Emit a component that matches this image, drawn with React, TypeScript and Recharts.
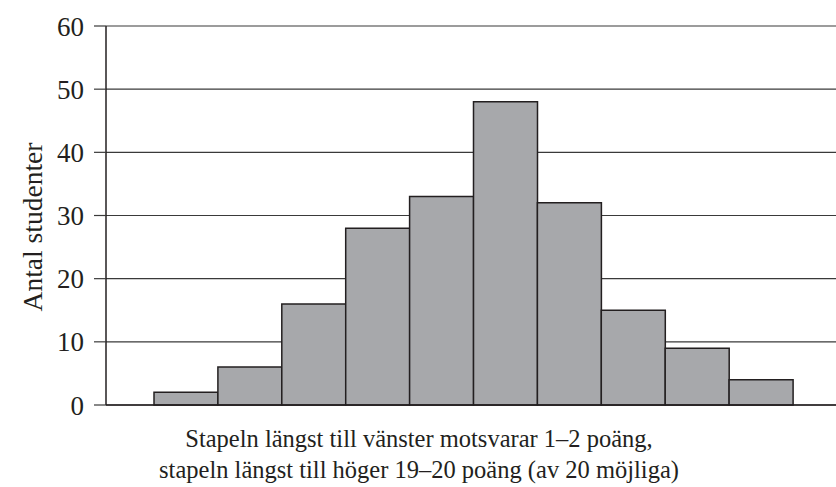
import React from 'react';
import { BarChart, Bar, XAxis, YAxis, CartesianGrid, Label } from 'recharts';

const categories = ['1–2', '3–4', '5–6', '7–8', '9–10', '11–12', '13–14', '15–16', '17–18', '19–20'];
const counts = [2, 6, 16, 28, 33, 48, 32, 15, 9, 4];
const yTicks = [0, 10, 20, 30, 40, 50, 60];
const yLabel = 'Antal studenter';
const captionLines = [
  'Stapeln längst till vänster motsvarar 1–2 poäng,',
  'stapeln längst till höger 19–20 poäng (av 20 möjliga)',
];

const data = categories.map((c, i) => ({ cat: c, count: counts[i] }));

const FONT = '"Liberation Serif", "DejaVu Serif", serif';
const INK = '#231f20';

const YLabel = (props: any) => {
  const cy = 227;
  const cx = 42;
  return (
    <text
      x={cx}
      y={cy}
      transform={`rotate(-90, ${cx}, ${cy})`}
      textAnchor="middle"
      fontFamily={FONT}
      fontSize={27.5}
      fill={INK}
    >
      {yLabel}
    </text>
  );
};

export default function App() {
  return (
    <div style={{ position: 'absolute', left: 0, top: 0, width: 836, height: 487, background: '#fff' }}>
      <BarChart
        width={836}
        height={487}
        data={data}
        margin={{ top: 26, right: 0, bottom: 0, left: 0 }}
        barCategoryGap={0}
        barGap={0}
      >
        <CartesianGrid vertical={false} stroke="#3a3a3a" strokeWidth={1.2} />
        <XAxis
          dataKey="cat"
          height={82}
          tick={false}
          tickLine={false}
          axisLine={{ stroke: INK, strokeWidth: 1.5 }}
          padding={{ left: 48, right: 43 }}
        />
        <YAxis
          width={106}
          domain={[0, 60]}
          ticks={yTicks}
          interval={0}
          tickSize={12}
          tickMargin={10}
          tickLine={{ stroke: '#3a3a3a', strokeWidth: 1.2 }}
          axisLine={{ stroke: INK, strokeWidth: 1.5 }}
          tick={{ fontFamily: FONT, fontSize: 27, fill: INK }}
        >
          <Label content={<YLabel />} />
        </YAxis>
        <Bar dataKey="count" fill="#a7a8ab" stroke={INK} strokeWidth={1.5} isAnimationActive={false} />
      </BarChart>
      {captionLines.map((line, i) => (
        <div
          key={i}
          style={{
            position: 'absolute',
            left: 0,
            width: 838,
            top: 425 + i * 31,
            textAlign: 'center',
            fontFamily: FONT,
            fontSize: 24.5,
            lineHeight: '28px',
            color: INK,
            whiteSpace: 'nowrap',
          }}
        >
          {line}
        </div>
      ))}
    </div>
  );
}
